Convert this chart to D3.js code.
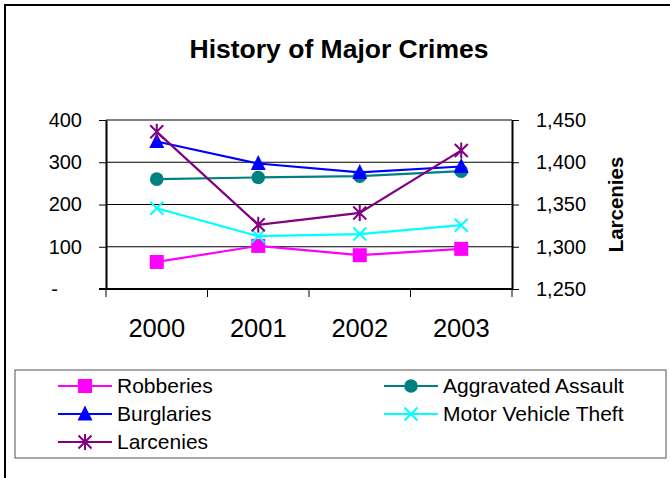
<!DOCTYPE html>
<html>
<head>
<meta charset="utf-8">
<script src="https://cdn.jsdelivr.net/npm/d3@7"></script>
<style>
  body { margin: 0; background: #fff; }
  svg { display: block; font-family: "Liberation Sans", Arial, sans-serif; }
</style>
</head>
<body>
<svg id="chart" width="670" height="478"></svg>
<script>
// Data
const years = ["2000", "2001", "2002", "2003"];
const robberies = [64, 102, 80, 95];
const aggravatedAssault = [260, 264, 267, 279];
const burglaries = [349, 297, 276, 290];
const motorVehicleTheft = [191, 125, 130, 151];
const larcenies = [1436, 1326, 1340, 1414];
const leftTicks = [0, 100, 200, 300, 400];
const rightTicks = [1250, 1300, 1350, 1400, 1450];

const series = [
  {name: "Robberies", values: robberies, color: "#ff00ff", symbol: "square", axis: "left"},
  {name: "Aggravated Assault", values: aggravatedAssault, color: "#008080", symbol: "circle", axis: "left"},
  {name: "Burglaries", values: burglaries, color: "#0000ff", symbol: "triangle", axis: "left"},
  {name: "Motor Vehicle Theft", values: motorVehicleTheft, color: "#00ffff", symbol: "x", axis: "left"},
  {name: "Larcenies", values: larcenies, color: "#800080", symbol: "star", axis: "right"}
];

const svg = d3.select("#chart");
const plot = {left: 106, right: 512, top: 120, bottom: 289};

// outer chart frame (clipped at the right and bottom like the reference)
svg.append("rect")
  .attr("x", 5).attr("y", 5)
  .attr("width", 700).attr("height", 500)
  .attr("fill", "none").attr("stroke", "#000").attr("stroke-width", 2);

svg.append("text")
  .attr("x", 339).attr("y", 58)
  .attr("text-anchor", "middle")
  .style("font-size", "26.5px").style("font-weight", "bold")
  .text("History of Major Crimes");

const x = d3.scaleBand().domain(years).range([plot.left, plot.right]);
const yL = d3.scaleLinear().domain([0, 400]).range([plot.bottom, plot.top]);
const yR = d3.scaleLinear().domain([1250, 1450]).range([plot.bottom, plot.top]);

// gridlines
svg.append("g")
  .selectAll("line")
  .data(leftTicks.filter(t => t > 0 && t < 400))
  .join("line")
  .attr("x1", plot.left).attr("x2", plot.right)
  .attr("y1", d => yL(d)).attr("y2", d => yL(d))
  .attr("stroke", "#000").attr("stroke-width", 1);

// plot area top border (gray)
svg.append("line")
  .attr("x1", plot.left).attr("x2", plot.right)
  .attr("y1", plot.top).attr("y2", plot.top)
  .attr("stroke", "#808080").attr("stroke-width", 2);

// Left axis
const fmtL = d => d === 0 ? "-" : d3.format(",")(d);
const gL = svg.append("g")
  .attr("transform", `translate(${plot.left},0)`)
  .call(d3.axisLeft(yL).tickValues(leftTicks).tickFormat(fmtL).tickSize(7).tickSizeOuter(0).tickPadding(17));
gL.select(".domain").attr("stroke-width", 2);
gL.selectAll("text").style("font-size", "20px").attr("fill", "#000").attr("font-family", null);
gL.selectAll("text").filter(d => d === 0).attr("dx", -24);

// Right axis
const gR = svg.append("g")
  .attr("transform", `translate(${plot.right},0)`)
  .call(d3.axisRight(yR).tickValues(rightTicks).tickFormat(d3.format(",")).tickSize(7).tickSizeOuter(0).tickPadding(17));
gR.select(".domain").attr("stroke-width", 2);
gR.selectAll("text").style("font-size", "20px").attr("fill", "#000").attr("font-family", null);

svg.append("text")
  .attr("transform", `translate(623,${(plot.top + plot.bottom) / 2}) rotate(-90)`)
  .attr("text-anchor", "middle")
  .style("font-size", "20.5px").style("font-weight", "bold")
  .text("Larcenies");

// Bottom axis: ticks at band boundaries
const gB = svg.append("g")
  .attr("transform", `translate(0,${plot.bottom})`)
  .call(d3.axisBottom(x).tickSize(0));
gB.select(".domain").attr("stroke-width", 2).attr("d", `M${plot.left - 7},0H${plot.right}`);
gB.selectAll("text").style("font-size", "25.5px").attr("fill", "#000").attr("font-family", null)
  .attr("y", 48).attr("dy", 0);
gB.selectAll("line.bound")
  .data(years.map(y => x(y)).concat([plot.right]))
  .join("line")
  .attr("class", "bound")
  .attr("x1", d => d).attr("x2", d => d)
  .attr("y1", 0).attr("y2", 8)
  .attr("stroke", "#000");

// markers
function drawMarker(g, symbol, color) {
  if (symbol === "square") {
    g.append("rect").attr("x", -7).attr("y", -7).attr("width", 14).attr("height", 14).attr("fill", color);
  } else if (symbol === "circle") {
    g.append("circle").attr("r", 6.8).attr("fill", color);
  } else if (symbol === "triangle") {
    g.append("path").attr("d", "M0,-8.5L7.5,6.5L-7.5,6.5Z").attr("fill", color);
  } else if (symbol === "x") {
    g.append("path").attr("d", "M-6.5,-6.5L6.5,6.5M-6.5,6.5L6.5,-6.5").attr("stroke", color).attr("stroke-width", 2).attr("fill", "none");
  } else if (symbol === "star") {
    g.append("path").attr("d", "M-6.5,-6.5L6.5,6.5M-6.5,6.5L6.5,-6.5M0,-8L0,8").attr("stroke", color).attr("stroke-width", 2).attr("fill", "none");
  }
}

series.forEach(s => {
  const y = s.axis === "left" ? yL : yR;
  const line = d3.line()
    .x((d, i) => x(years[i]) + x.bandwidth() / 2)
    .y(d => y(d));
  svg.append("path")
    .datum(s.values)
    .attr("d", line)
    .attr("fill", "none")
    .attr("stroke", s.color)
    .attr("stroke-width", 2.2);
  s.values.forEach((v, i) => {
    const g = svg.append("g")
      .attr("transform", `translate(${x(years[i]) + x.bandwidth() / 2},${y(v)})`);
    drawMarker(g, s.symbol, s.color);
  });
});

// Legend
svg.append("rect")
  .attr("x", 15).attr("y", 370)
  .attr("width", 651).attr("height", 88)
  .attr("fill", "#fff").attr("stroke", "#555").attr("stroke-width", 1);

const legendPos = [
  {x: 58, y: 386}, {x: 384, y: 386},
  {x: 58, y: 414}, {x: 384, y: 414},
  {x: 58, y: 442}
];
series.forEach((s, i) => {
  const p = legendPos[i];
  const g = svg.append("g").attr("transform", `translate(${p.x},${p.y})`);
  g.append("line").attr("x1", 0).attr("x2", 54).attr("y1", 0).attr("y2", 0)
    .attr("stroke", s.color).attr("stroke-width", 2);
  const m = g.append("g").attr("transform", "translate(27,0)");
  drawMarker(m, s.symbol, s.color);
  g.append("text")
    .attr("x", 59).attr("y", 7)
    .style("font-size", "21px")
    .text(s.name);
});
</script>
</body>
</html>
